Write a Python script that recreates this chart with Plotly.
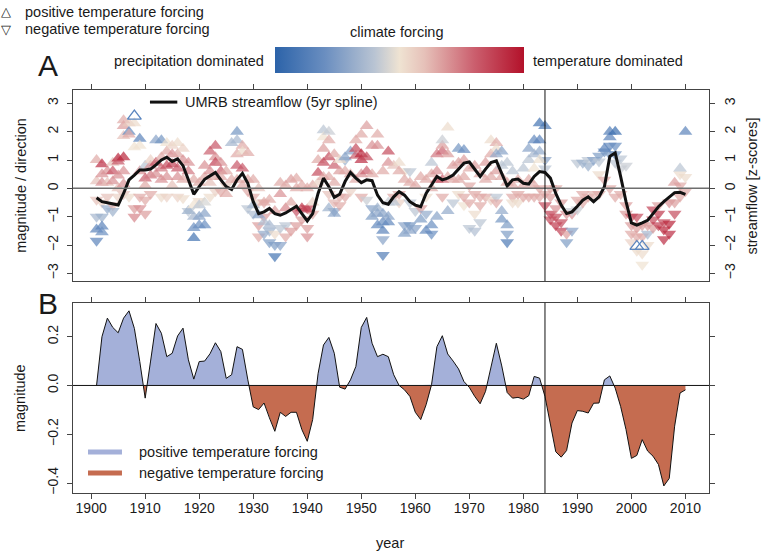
import numpy as np
import plotly.graph_objects as go

# ---------------- data ----------------
years = list(range(1901, 2011))

streamflow = [-0.33, -0.47, -0.51, -0.56, -0.59, -0.18, 0.3, 0.47, 0.65, 0.65,
              0.68, 0.83, 1.0, 1.1, 0.95, 1.04, 0.8, 0.3, -0.21, 0.06,
              0.32, 0.44, 0.56, 0.3, 0.06, -0.04, 0.3, 0.53, 0.18, -0.47,
              -0.89, -0.83, -0.71, -0.89, -0.95, -0.87, -0.75, -0.63, -0.89, -1.15,
              -0.89, -0.18, 0.36, 0.06, -0.32, -0.21, 0.24, 0.56, 0.36, 0.2,
              0.3, 0.27, -0.24, -0.51, -0.56, -0.3, -0.12, -0.24, -0.47, -0.59,
              -0.65, -0.18, 0.12, 0.42, 0.3, 0.36, 0.47, 0.68, 0.89, 0.93,
              0.68, 0.42, 0.68, 0.91, 0.97, 0.53, 0.08, 0.3, 0.33, 0.18,
              0.15, 0.42, 0.59, 0.56, 0.36, -0.18, -0.59, -0.89, -0.83, -0.63,
              -0.42, -0.3, -0.47, -0.3, 0.06, 1.13, 1.25, 0.42, -0.47, -1.22,
              -1.3, -1.22, -1.13, -0.89, -0.65, -0.47, -0.3, -0.15, -0.14, -0.21]

magnitude = [0.0, 0.2, 0.276, 0.238, 0.216, 0.276, 0.306, 0.234, 0.098, -0.052,
             0.10, 0.254, 0.214, 0.118, 0.132, 0.203, 0.235, 0.105, 0.026, 0.098,
             0.10, 0.13, 0.175, 0.139, 0.029, 0.044, 0.159, 0.148, 0.023, -0.088,
             -0.099, -0.072, -0.133, -0.188, -0.11, -0.127, -0.11, -0.11, -0.181, -0.229,
             -0.14, 0.048, 0.166, 0.197, 0.132, -0.007, -0.015, 0.023, 0.078, 0.238,
             0.279, 0.173, 0.118, 0.128, 0.118, 0.044, 0.0, -0.018, -0.045, -0.11,
             -0.14, -0.079, 0.003, 0.159, 0.204, 0.129, 0.1, 0.068, 0.016, -0.008,
             -0.045, -0.075, -0.024, 0.071, 0.173, 0.08, -0.029, -0.052, -0.049, -0.056,
             -0.042, 0.037, 0.03, -0.045, -0.154, -0.272, -0.294, -0.267, -0.154, -0.103,
             -0.106, -0.113, -0.073, -0.072, 0.023, 0.039, -0.011, -0.086, -0.181, -0.299,
             -0.287, -0.222, -0.269, -0.29, -0.324, -0.412, -0.381, -0.167, -0.031, -0.018]

# positive temperature forcing (up triangles): year, magnitude/direction, climate forcing (-1 precip .. +1 temp)
up_year = [1901, 1901, 1901,
           1902, 1902, 1902, 1902, 1902,
           1903, 1903,
           1904, 1904, 1904,
           1905, 1905, 1905, 1905,
           1906, 1906, 1906, 1906, 1906, 1906,
           1907, 1907, 1907,
           1908, 1908,
           1909, 1909, 1909,
           1910, 1910, 1910,
           1911, 1911, 1911,
           1912, 1912, 1912,
           1913, 1913, 1913, 1913,
           1914, 1914, 1914, 1914,
           1915, 1915, 1915, 1915,
           1916, 1916, 1916, 1916,
           1917, 1917, 1917,
           1918, 1918, 1918,
           1919, 1919, 1919, 1919, 1919,
           1920, 1920, 1920, 1920,
           1921, 1921, 1921, 1921, 1921,
           1922, 1922, 1922,
           1923, 1923, 1923, 1923,
           1924, 1924, 1924,
           1925, 1925,
           1926, 1926,
           1927, 1927, 1927, 1927, 1927,
           1928, 1928, 1928, 1928,
           1929, 1929,
           1930, 1930,
           1931, 1931,
           1932, 1932,
           1933, 1933,
           1934,
           1935, 1935,
           1936, 1936,
           1937, 1937,
           1938, 1938,
           1939, 1939,
           1940, 1940,
           1941, 1941,
           1942, 1942, 1942,
           1943, 1943, 1943, 1943, 1943,
           1944, 1944, 1944, 1944, 1944,
           1945, 1945, 1945, 1945,
           1946, 1946,
           1947, 1947,
           1948, 1948,
           1949, 1949, 1949, 1949,
           1950, 1950, 1950, 1950,
           1951, 1951, 1951,
           1952, 1952, 1952,
           1953, 1953, 1953, 1953, 1953,
           1954, 1954, 1954, 1954,
           1955, 1955, 1955, 1955, 1955,
           1956, 1956,
           1957, 1957,
           1958, 1958,
           1959, 1959,
           1960,
           1961, 1961,
           1962, 1962,
           1963, 1963, 1963, 1963,
           1964, 1964, 1964, 1964,
           1965, 1965, 1965, 1965,
           1966, 1966, 1966, 1966,
           1967, 1967,
           1968, 1968, 1968,
           1969, 1969, 1969,
           1970, 1971, 1972,
           1973, 1973,
           1974, 1974, 1974,
           1975, 1975, 1975, 1975,
           1976, 1976, 1976, 1976, 1976,
           1977, 1977, 1977,
           1978, 1978,
           1979,
           1980, 1980,
           1981, 1981, 1981,
           1982, 1982, 1982, 1982,
           1983, 1983, 1983, 1983,
           1984,
           1995,
           1996, 1996,
           1997,
           2008, 2009, 2010]
up_value = [1.0, -1.45, 0.25,
            0.85, 0.5, -1.35, -1.55, 0.2,
            0.6, 0.2,
            0.6, 0.25, 0.9,
            1.05, 0.95, 0.45, 0.0,
            1.1, 0.6, 0.15, 1.85, 2.2, 2.4,
            2.3, 2.0, 1.9,
            2.3, 1.45,
            1.75, 1.5, 0.6,
            0.8, 0.35, 0.1,
            0.8, 0.45, 1.0,
            0.9, 0.5, 1.7,
            1.7, 1.1, 0.7, 0.3,
            1.6, 1.3, 0.8, 0.4,
            1.5, 1.2, 0.85, 0.1,
            1.6, 1.2, 0.7, 0.4,
            1.4, 1.0, 0.3,
            0.9, 0.6, -0.8,
            -1.0, -1.4, -1.75, -0.6, 0.3,
            -1.3, -1.0, -0.6, 0.2,
            -1.3, -0.9, -0.5, 0.8, 0.4,
            1.3, 0.6, 0.2,
            1.5, 1.1, 0.9, 0.4,
            0.9, 0.6, 0.4,
            0.6, -0.2,
            1.6, 0.3,
            2.0, 1.7, 1.2, 0.8, 0.3,
            1.5, 1.3, 0.7, 0.1,
            0.3, 1.25,
            0.3, -0.6,
            -0.95, 0.0,
            -1.2, -0.5,
            -0.4, -1.3,
            -0.8,
            -0.2, 0.2,
            -0.7, 0.1,
            0.3, -0.5,
            0.35, 0.0,
            -0.7, 0.1,
            0.0, -0.75,
            0.1, -0.5,
            0.55, 1.0, 0.2,
            0.9, 1.4, 2.05, 1.8, 0.4,
            2.0, 1.7, 1.1, 0.4, -0.7,
            1.2, 0.8, 0.2, -0.9,
            0.6, 1.0,
            1.1, 0.6,
            1.3, 0.5,
            1.4, 1.7, 0.3, 1.15,
            1.2, 1.0, 1.9, 0.5,
            1.1, 2.2, 0.6,
            1.5, 0.5, -1.0,
            1.9, 1.5, -0.7, -1.3, -0.9,
            -1.2, -0.9, -1.5, 0.6,
            1.3, 0.9, -1.2, -1.0, -0.5,
            0.8, -0.5,
            0.9, 0.6,
            0.3, -1.6,
            0.2, -1.5,
            0.1,
            0.4, -1.1,
            0.3, -1.5,
            0.9, 0.5, 0.0, -1.3,
            0.3, 0.6, 1.2, -1.0,
            1.3, 1.5, 1.7, 0.3,
            2.15, 1.2, 0.4, -0.8,
            0.8, 0.3,
            1.4, 0.9, 0.3,
            1.35, 1.0, 0.4,
            0.7, 0.8, 0.5,
            0.3, 0.9,
            1.7, 1.2, 0.4,
            1.6, 1.4, 1.2, 0.6,
            1.3, 0.8, 0.4, -1.1, -0.8,
            0.9, 0.2, -1.3,
            0.6, 0.1,
            0.3,
            0.7, 0.1,
            1.0, 1.4, 0.3,
            1.7, 1.2, 0.7, 0.1,
            2.3, 1.7, 1.3, 1.0,
            2.2,
            1.4,
            2.0, 1.8,
            2.0,
            0.2, 0.7, 2.0]
up_climate = [0.3, -0.7, 0.2,
              0.85, 0.4, -0.7, -0.6, 0.4,
              0.4, 0.2,
              0.65, 0.4, 0.2,
              0.9, 0.65, 0.4, 0.2,
              0.9, 0.4, 0.4, 0.2, 0.35, 0.3,
              0.15, -0.65, 0.3,
              0.05, 0.0,
              -0.7, 0.0, 0.4,
              -0.2, 0.6, 0.3,
              0.4, 0.5, 0.1,
              0.7, 0.4, -0.45,
              -0.55, 0.3, 0.5, 0.4,
              0.0, 0.3, 0.7, 0.4,
              0.1, 0.4, 0.75, 0.2,
              0.05, 0.3, 0.65, 0.4,
              0.1, 0.4, 0.3,
              0.4, 0.5, -0.35,
              -0.3, -0.6, -0.85, 0.0, 0.3,
              -0.6, -0.45, -0.2, 0.3,
              -0.6, -0.45, -0.1, 0.4, 0.3,
              0.6, 0.4, 0.2,
              0.65, 0.4, 0.75, 0.3,
              0.4, 0.6, 0.3,
              0.3, 0.3,
              -0.3, 0.3,
              -0.55, -0.3, 0.3, 0.65, 0.3,
              0.3, 0.05, 0.65, 0.3,
              0.3, 0.3,
              0.3, -0.3,
              -0.45, 0.2,
              -0.25, 0.3,
              0.3, -0.3,
              0.35,
              0.4, 0.3,
              0.45, 0.3,
              0.35, 0.3,
              0.3, 0.3,
              0.8, 0.3,
              0.3, 0.75,
              0.3, 0.1,
              0.7, 0.3, 0.1,
              0.7, 0.35, -0.2, 0.0, 0.3,
              -0.15, 0.3, 0.7, 0.3, -0.35,
              0.3, 0.6, 0.3, -0.45,
              0.35, 0.05,
              -0.45, 0.3,
              -0.45, 0.3,
              0.7, 0.3, 0.3, 0.6,
              0.9, 0.85, 0.3, 0.4,
              0.7, 0.35, 0.6,
              0.4, 0.3, -0.5,
              0.3, 0.4, -0.35, -0.65, -0.45,
              -0.6, -0.45, -0.7, 0.3,
              0.7, 0.4, -0.65, -0.45, -0.15,
              0.2, -0.2,
              0.05, 0.3,
              0.3, -0.5,
              0.3, -0.45,
              0.3,
              0.3, -0.5,
              0.3, -0.65,
              -0.2, 0.3, 0.3, -0.6,
              0.6, 0.4, 0.5, -0.45,
              0.6, 0.35, -0.15, 0.6,
              0.05, 0.35, 0.3, -0.4,
              0.35, 0.3,
              -0.55, 0.35, 0.3,
              -0.6, 0.35, 0.3,
              0.3, 0.35, 0.3,
              0.3, 0.35,
              0.05, 0.3, 0.3,
              0.3, 0.05, -0.4, 0.35,
              -0.45, -0.2, 0.3, -0.55, -0.4,
              -0.2, 0.3, -0.5,
              -0.2, 0.3,
              0.3,
              -0.2, 0.3,
              -0.2, -0.45, 0.3,
              -0.65, -0.3, 0.0, 0.3,
              -0.85, -0.7, -0.4, 0.0,
              -0.8,
              -0.7,
              -0.75, -0.7,
              -0.9,
              0.35, -0.2, -0.7]

# negative temperature forcing (down triangles)
down_year = [1901, 1901, 1901,
             1902, 1902,
             1903, 1903,
             1904, 1904,
             1905, 1906, 1907,
             1908, 1908,
             1909, 1909,
             1910, 1910,
             1911, 1913, 1914, 1916, 1917, 1918, 1920, 1922, 1923, 1924, 1925,
             1929, 1929,
             1930, 1930,
             1931, 1931, 1931,
             1932, 1932, 1932,
             1933, 1933,
             1934, 1934, 1934,
             1935, 1935,
             1936, 1936,
             1937,
             1938, 1938,
             1939,
             1940, 1940, 1940,
             1941, 1944,
             1945, 1945,
             1946, 1946,
             1947, 1947,
             1948, 1950, 1951, 1952,
             1954, 1954,
             1956,
             1957, 1957,
             1958, 1958,
             1959, 1959, 1959,
             1960, 1960,
             1961,
             1962, 1962,
             1963, 1965, 1967, 1968,
             1969, 1969,
             1970, 1970, 1970,
             1971, 1971, 1971,
             1972, 1972, 1972,
             1973, 1974,
             1975, 1975,
             1977, 1977,
             1978, 1978,
             1979, 1979,
             1980, 1981, 1982,
             1983, 1983,
             1984, 1984, 1984, 1984,
             1985, 1985, 1985, 1985,
             1986, 1986, 1986, 1986,
             1987, 1987, 1987,
             1988, 1988, 1988,
             1989, 1989, 1989,
             1990, 1990, 1990,
             1991, 1991, 1991,
             1992, 1992, 1992,
             1993, 1993,
             1994, 1994, 1994, 1994,
             1995, 1995,
             1996, 1996, 1996,
             1997, 1997, 1997, 1997,
             1998, 1998, 1998,
             1999, 1999, 1999,
             2000, 2000, 2000, 2000,
             2001, 2001, 2001, 2001,
             2002, 2002, 2002, 2002,
             2003, 2003, 2003,
             2004, 2004, 2004,
             2005, 2005, 2005,
             2006, 2006, 2006,
             2007, 2007, 2007,
             2008, 2008,
             2009, 2009, 2009,
             2010, 2010]
down_value = [-1.85, -1.0, -0.4,
              -0.5, -1.0,
              -0.7, -0.3,
              -0.6, -0.8,
              -0.3, -0.2, -0.3,
              -0.7, -1.0,
              -0.7, -0.3,
              -0.4, -0.9,
              -0.2, -0.3, -0.3, -0.3, -0.35, -0.8, -0.45, -0.3, -0.1, -0.1, 0.1,
              -0.1, -0.7,
              -0.3, -0.9,
              -1.3, -0.5, -1.7,
              -1.0, -1.6, -0.5,
              -1.9, -1.5,
              -2.4, -2.0, -1.6,
              -2.0, -1.4,
              -1.3, -1.7,
              -1.5,
              -0.8, -1.3,
              -1.1,
              -0.7, -1.4, -1.7,
              -0.9, -0.2,
              -0.5, -0.8,
              -0.3, -0.6,
              1.0, -0.3,
              -0.1, -0.3, -0.4, -0.7,
              -2.35, -1.8,
              -0.3,
              -0.2, -0.5,
              0.6, -1.3,
              0.6, -0.5, -1.3,
              -1.4, -0.8,
              -0.7,
              -0.3, -0.9,
              -1.6, -0.3, -0.5, -0.2,
              -0.3, -0.6,
              0.1, -1.4, -0.5,
              -0.2, -1.5, -0.9,
              -0.3, -0.6, -1.2,
              -0.3, -0.4,
              -0.3, -0.5,
              -1.6, -1.9,
              -0.3, -0.5,
              -0.2, -0.5,
              -0.3, -0.3, -0.3,
              0.0, -0.3,
              1.0, 0.7, -0.2, -0.6,
              -0.9, -1.1, -0.3, 0.0,
              -1.3, -0.7, 0.0, -1.0,
              -1.5, -1.2, -0.5,
              -1.9, -1.6, -0.9,
              -1.5, -0.9, -0.8,
              0.9, -0.4, -0.75,
              0.9, -0.2, -0.5,
              0.8, 1.0, -0.3,
              1.0, -0.2,
              1.15, 0.95, 0.5, -0.2,
              1.3, 0.3,
              1.5, 1.2, 0.0,
              1.5, 1.2, 0.9, -0.3,
              1.05, 0.7, -0.2,
              0.8, -0.6, -0.9,
              -1.0, -1.3, -1.6, -1.9,
              -1.4, -1.0, -2.2, -1.7,
              -2.7, -2.3, -1.3, -1.7,
              -1.6, -1.3, -2.0,
              -0.75, -1.1, -1.4,
              -0.9, -1.3, -0.6,
              -1.45, -1.8, -1.2,
              -1.25, -1.6, -0.5,
              -0.5, -0.9,
              0.1, 0.5, -0.3,
              0.4, -0.1]
down_climate = [-0.7, -0.3, 0.2,
                0.1, -0.35,
                -0.4, 0.2,
                0.25, -0.35,
                0.1, 0.2, 0.05,
                0.35, 0.45,
                0.4, 0.3,
                0.3, 0.35,
                0.3, 0.05, 0.1, 0.1, 0.05, -0.2, 0.05, 0.05, 0.1, 0.3, 0.15,
                0.3, -0.2,
                0.3, -0.25,
                0.35, 0.1, 0.3,
                0.35, -0.4, 0.3,
                -0.5, -0.35,
                -0.85, -0.5, 0.05,
                -0.45, -0.2,
                -0.2, 0.3,
                0.35,
                0.65, 0.35,
                0.35,
                0.7, 0.35, 0.4,
                0.3, 0.2,
                0.25, -0.4,
                0.25, 0.3,
                -0.35, 0.3,
                0.1, 0.3, -0.15, -0.45,
                -0.75, -0.45,
                0.3,
                0.3, 0.1,
                0.0, -0.45,
                -0.2, -0.2, -0.55,
                -0.45, -0.2,
                0.35,
                0.05, -0.4,
                -0.6, 0.3, -0.2, 0.05,
                0.3, 0.0,
                0.3, -0.2, 0.3,
                0.3, -0.25, 0.05,
                0.3, 0.3, -0.2,
                0.3, 0.1,
                -0.2, 0.3,
                -0.5, -0.8,
                0.3, 0.05,
                0.3, 0.05,
                0.3, 0.3, 0.3,
                0.3, 0.3,
                -0.45, -0.2, 0.3, 0.7,
                0.75, 0.7, 0.35, 0.3,
                0.8, 0.4, 0.3, 0.7,
                0.75, 0.7, 0.35,
                -0.5, 0.35, 0.4,
                -0.45, 0.4, -0.15,
                -0.2, 0.3, -0.15,
                -0.35, 0.3, 0.3,
                -0.35, -0.2, 0.3,
                -0.45, 0.25,
                -0.5, -0.2, 0.05, 0.3,
                -0.55, 0.3,
                -0.65, -0.5, 0.3,
                -0.6, -0.55, -0.2, 0.3,
                -0.2, -0.15, 0.3,
                -0.15, 0.35, 0.35,
                0.7, 0.35, 0.3, 0.1,
                0.35, 0.7, 0.05, 0.3,
                0.0, 0.05, 0.35, 0.3,
                -0.3, 0.35, 0.05,
                0.75, 0.7, 0.35,
                0.8, 0.75, 0.35,
                0.9, 0.85, 0.7,
                0.9, 0.85, 0.4,
                0.35, 0.7,
                0.3, 0.05, 0.3,
                0.05, 0.3]

# open (unfilled) triangles
open_year = [1908, 2001, 2002]
open_value = [2.55, -2.05, -2.05]

tick_years = [1900, 1910, 1920, 1930, 1940, 1950, 1960, 1970, 1980, 1990, 2000, 2010]
change_year = 1984

# ---------------- styling ----------------
FONT = "Liberation Sans, Arial, Helvetica, sans-serif"
TXT = "#1a1a1a"
AX = "#444444"
climate_scale = [[0.0, "#2c63a9"], [0.2, "#6a8ec0"], [0.4, "#b9c4d3"], [0.5, "#efe3d2"],
                 [0.6, "#e6c1b9"], [0.8, "#cb5f6e"], [1.0, "#b3112a"]]
POS = "#a4b0d9"
NEG = "#c56c50"

fig = go.Figure()

marker_common = dict(size=12, colorscale=climate_scale, cmin=-1, cmax=1, opacity=0.7,
                     line=dict(width=0))

fig.add_trace(go.Scatter(
    x=down_year, y=down_value, mode="markers", xaxis="x", yaxis="y", showlegend=False,
    marker=dict(symbol="triangle-down", color=down_climate, **marker_common), hoverinfo="skip"))
fig.add_trace(go.Scatter(
    x=up_year, y=up_value, mode="markers", xaxis="x", yaxis="y", showlegend=False,
    marker=dict(symbol="triangle-up", color=up_climate,
                colorbar=dict(orientation="h", x=0.5135, xanchor="center", y=1.042, yanchor="bottom",
                              len=249, lenmode="pixels", thickness=26, ypad=0, xpad=0,
                              outlinewidth=0, showticklabels=False, ticks=""),
                **marker_common), hoverinfo="skip"))
fig.add_trace(go.Scatter(
    x=open_year, y=open_value, mode="markers", xaxis="x", yaxis="y", showlegend=False,
    marker=dict(symbol="triangle-up-open", size=12, color="#5a85bf", line=dict(width=1.3)),
    hoverinfo="skip"))

fig.add_trace(go.Scatter(
    x=years, y=streamflow, mode="lines", xaxis="x", yaxis="y", showlegend=False,
    line=dict(color="#111111", width=3), hoverinfo="skip"))

# bottom panel: split into positive / negative parts at zero crossings
xs, ys = [], []
for i, (yr, v) in enumerate(zip(years, magnitude)):
    if i > 0:
        v0 = magnitude[i - 1]
        if v0 * v < 0:
            xc = years[i - 1] + (yr - years[i - 1]) * v0 / (v0 - v)
            xs.append(xc)
            ys.append(0.0)
    xs.append(yr)
    ys.append(v)
ys = np.array(ys)
fig.add_trace(go.Scatter(x=xs, y=np.maximum(ys, 0), mode="lines", fill="tozeroy",
                         fillcolor=POS, line=dict(width=0), xaxis="x2", yaxis="y2",
                         showlegend=False, hoverinfo="skip"))
fig.add_trace(go.Scatter(x=xs, y=np.minimum(ys, 0), mode="lines", fill="tozeroy",
                         fillcolor=NEG, line=dict(width=0), xaxis="x2", yaxis="y2",
                         showlegend=False, hoverinfo="skip"))
fig.add_trace(go.Scatter(x=years, y=magnitude, mode="lines", line=dict(color="#111111", width=1),
                         xaxis="x2", yaxis="y2", showlegend=False, hoverinfo="skip"))

xr = [1896.64, 2014.36]
tickfont = dict(family=FONT, size=14, color=TXT)
axis_common = dict(showgrid=False, zeroline=False, showline=True, linecolor=AX, linewidth=1,
                   ticks="outside", ticklen=5, tickcolor=AX, tickwidth=1, tickfont=tickfont,
                   automargin=False)

fig.update_layout(
    width=762, height=551,
    margin=dict(l=73, r=53, t=90, b=58, autoexpand=False),
    paper_bgcolor="white", plot_bgcolor="white",
    font=dict(family=FONT, size=14, color=TXT),
    xaxis=dict(domain=[0, 1], anchor="y", range=xr, side="top", tickvals=tick_years,
               showticklabels=False, mirror=True, **axis_common),
    yaxis=dict(domain=[0.526, 1], anchor="x", range=[-3.27, 3.47], tickvals=[-3, -2, -1, 0, 1, 2, 3],
               tickangle=-90, mirror=True, ticklabelstandoff=3, **axis_common),
    yaxis3=dict(overlaying="y", anchor="x", side="right", range=[-3.27, 3.47],
                tickvals=[-3, -2, -1, 0, 1, 2, 3], tickangle=-90, ticklabelstandoff=3, **axis_common),
    xaxis2=dict(domain=[0, 1], anchor="y2", range=xr, tickvals=tick_years, mirror="ticks",
                ticklabelstandoff=-3, **axis_common),
    yaxis2=dict(domain=[0, 0.472], anchor="x2", range=[-0.441, 0.339],
                tickvals=[-0.4, -0.2, 0.0, 0.2], tickformat=".1f", tickangle=-90, mirror="ticks",
                ticklabelstandoff=3, **axis_common),
)
# dummy trace to activate right axis
fig.add_trace(go.Scatter(x=[None], y=[None], xaxis="x", yaxis="y3", showlegend=False))

shapes = [
    dict(type="line", xref="x domain", yref="y", x0=0, x1=1, y0=0, y1=0,
         line=dict(color="#6e6e6e", width=1.5), layer="above"),
    dict(type="line", xref="x", yref="y domain", x0=change_year, x1=change_year, y0=0, y1=1,
         line=dict(color="#111111", width=1), layer="above"),
    dict(type="line", xref="x2 domain", yref="y2", x0=0, x1=1, y0=0, y1=0,
         line=dict(color="#111111", width=1), layer="above"),
    dict(type="line", xref="x2", yref="y2 domain", x0=change_year, x1=change_year, y0=0, y1=1,
         line=dict(color="#111111", width=1), layer="above"),
    # legend keys
    dict(type="line", xref="paper", yref="paper", x0=0.121, x1=0.164, y0=0.970, y1=0.970,
         line=dict(color="#111111", width=3)),
    dict(type="line", xref="paper", yref="paper", x0=0.0236, x1=0.077, y0=0.1017, y1=0.1017,
         line=dict(color=POS, width=5)),
    dict(type="line", xref="paper", yref="paper", x0=0.0236, x1=0.077, y0=0.0496, y1=0.0496,
         line=dict(color=NEG, width=5)),
]
fig.update_layout(shapes=shapes)

def ann(text, x, y, size=14.5, xanchor="center", yanchor="middle", angle=0):
    return dict(text=text, x=x, y=y, xref="paper", yref="paper", showarrow=False,
                xanchor=xanchor, yanchor=yanchor, textangle=angle,
                font=dict(family=FONT, size=size, color=TXT))

annotations = [
    ann("△", -0.105, 1.194, size=13),
    ann("positive temperature forcing", -0.0786, 1.194, xanchor="left"),
    ann("▽", -0.105, 1.151, size=13),
    ann("negative temperature forcing", -0.0786, 1.151, xanchor="left"),
    ann("climate forcing", 0.509, 1.144),
    ann("precipitation dominated", 0.303, 1.072, xanchor="right"),
    ann("temperature dominated", 0.72, 1.072, xanchor="left"),
    ann("A", -0.039, 1.062, size=30),
    ann("B", -0.039, 0.471, size=30),
    ann("UMRB streamflow (5yr spline)", 0.173, 0.970, xanchor="left"),
    ann("positive temperature forcing", 0.1006, 0.1017, xanchor="left"),
    ann("negative temperature forcing", 0.1006, 0.0496, xanchor="left"),
    ann("magnitude / direction", -0.083, 0.763, angle=-90),
    ann("streamflow [z-scores]", 1.0676, 0.763, angle=-90),
    ann("magnitude", -0.083, 0.236, angle=-90),
    ann("year", 0.498, -0.124),
]
fig.update_layout(annotations=annotations)

# remove the page's default body margin so the figure fills the window exactly; hide the mode bar
fig.write_html("out.html", config={"displayModeBar": False},
               post_script="document.body.style.margin='0';document.body.style.overflow='hidden';")
